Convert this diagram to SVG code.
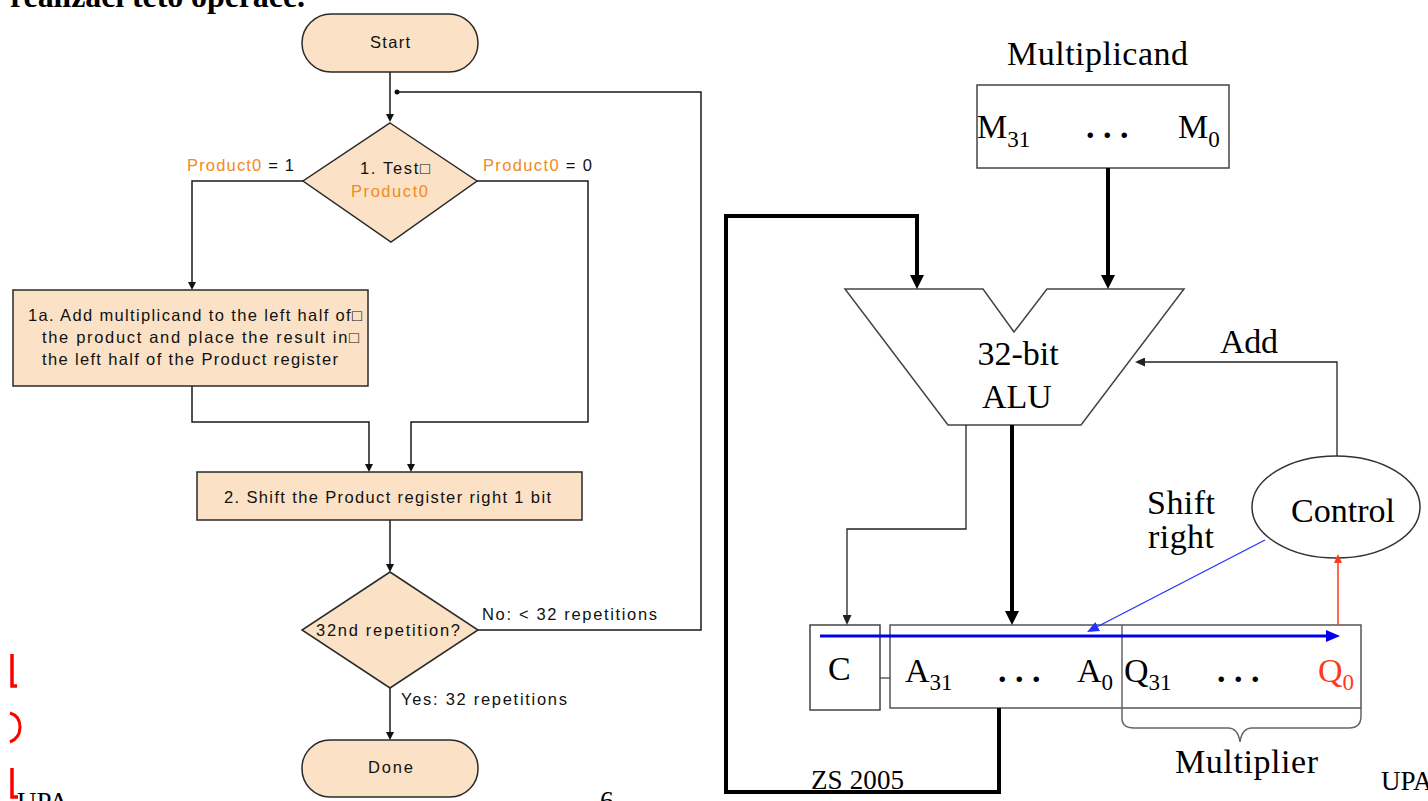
<svg xmlns="http://www.w3.org/2000/svg" width="1428" height="801" viewBox="0 0 1428 801">
<style>
.fc{fill:#FBE2C6;stroke:#2a2a2a;stroke-width:1.5}
.ft{font-family:"Liberation Sans",Arial,sans-serif;font-size:16.5px;fill:#111}
.or{fill:#F08A1C}
.con{fill:none;stroke:#1a1a1a;stroke-width:1.5}
.thick{fill:none;stroke:#000;stroke-width:4}
.thin{fill:none;stroke:#222;stroke-width:1.3}
.st{font-family:"Liberation Serif","Times New Roman",serif;font-size:34px;fill:#000}
.red{fill:#FF3A1A}
.sub{font-size:23px}
.box{fill:#fff;stroke:#444;stroke-width:1.5}
.nob{fill:none;stroke:#444;stroke-width:1.5}
</style>
<defs>
<marker id="aF" markerUnits="userSpaceOnUse" markerWidth="9" markerHeight="8" refX="0" refY="4" orient="auto"><path d="M0,0 L8,4 L0,8 z" fill="#111"/></marker>
<marker id="aK" markerUnits="userSpaceOnUse" markerWidth="15" markerHeight="14" refX="0" refY="7" orient="auto"><path d="M0,0 L14,7 L0,14 z" fill="#000"/></marker>
<marker id="aT" markerUnits="userSpaceOnUse" markerWidth="11" markerHeight="9" refX="0" refY="4.5" orient="auto"><path d="M0,0 L10,4.5 L0,9 z" fill="#222"/></marker>
<marker id="aB" markerUnits="userSpaceOnUse" markerWidth="15" markerHeight="12" refX="0" refY="6" orient="auto"><path d="M0,0 L14,6 L0,12 z" fill="#0000F0"/></marker>
<marker id="aBt" markerUnits="userSpaceOnUse" markerWidth="13" markerHeight="10" refX="0" refY="5" orient="auto"><path d="M0,0 L12,5 L0,10 z" fill="#2233FF"/></marker>
<marker id="aR" markerUnits="userSpaceOnUse" markerWidth="10" markerHeight="8" refX="0" refY="4" orient="auto"><path d="M0,0 L9,4 L0,8 z" fill="#FF3A1A"/></marker>
</defs>

<g id="page-text">
<text x="10" y="7" font-family="Liberation Serif,serif" font-weight="bold" font-size="32" textLength="295">realizaci této operace.</text>
<text x="17" y="811" font-family="Liberation Serif,serif" font-size="27">UPA</text>
<text x="600" y="810" font-family="Liberation Serif,serif" font-size="27">6</text>
<text x="811" y="789" font-family="Liberation Serif,serif" font-size="27" textLength="93">ZS 2005</text>
<text x="1381" y="790" font-family="Liberation Serif,serif" font-size="27">UPA</text>
<path d="M12,654 V686 H17" fill="none" stroke="#FF0000" stroke-width="3.5"/>
<path d="M10,713 Q20,716 20,727 Q20,738 10,742" fill="none" stroke="#FF0000" stroke-width="3"/>
<path d="M12,768 V797 H18" fill="none" stroke="#FF0000" stroke-width="3.5"/>
</g>

<g id="flow-connectors">
<path class="con" d="M390,72 V114" marker-end="url(#aF)"/>
<path class="con" d="M478,630 H701 V92 H397"/>
<circle cx="397" cy="92" r="2.5" fill="#111"/>
<path class="con" d="M303,181 H192 V282" marker-end="url(#aF)"/>
<path class="con" d="M477,181 H588 V422 H411 V464" marker-end="url(#aF)"/>
<path class="con" d="M192,386 V422 H369 V464" marker-end="url(#aF)"/>
<path class="con" d="M390,520 V564" marker-end="url(#aF)"/>
<path class="con" d="M390,688 V732" marker-end="url(#aF)"/>
<text class="ft" x="187" y="171" textLength="107"><tspan class="or">Product0</tspan> = 1</text>
<text class="ft" x="483" y="171" textLength="109"><tspan class="or">Product0</tspan> = 0</text>
<text class="ft" x="482" y="620" textLength="175">No:  &lt; 32 repetitions</text>
<text class="ft" x="401" y="705" textLength="166">Yes:  32 repetitions</text>
</g>

<g id="start">
<rect class="fc" x="302" y="14" width="176" height="58" rx="29"/>
<text class="ft" x="370" y="48" textLength="40">Start</text>
</g>

<g id="test">
<polygon class="fc" points="390,123 477,181 391,242 303,181"/>
<text class="ft" x="360" y="174" textLength="70">1. Test□</text>
<text class="ft or" x="351" y="197" textLength="77">Product0</text>
</g>

<g id="step1a">
<rect class="fc" x="13" y="290" width="355" height="96"/>
<text class="ft" x="28" y="321" textLength="334">1a. Add multiplicand to the left half of□</text>
<text class="ft" x="42" y="343" textLength="317">the product and place the result in□</text>
<text class="ft" x="42" y="365" textLength="296">the left half of the Product register</text>
</g>

<g id="step2">
<rect class="fc" x="197" y="472" width="385" height="48"/>
<text class="ft" x="224" y="503" textLength="327">2. Shift the Product register right 1 bit</text>
</g>

<g id="repeat">
<polygon class="fc" points="390,572 478,630 390,688 302,630"/>
<text class="ft" x="316" y="636" textLength="144">32nd repetition?</text>
</g>

<g id="done">
<rect class="fc" x="302" y="740" width="176" height="57" rx="28"/>
<text class="ft" x="368" y="773" textLength="45">Done</text>
</g>

<g id="multiplicand">
<text class="st" x="1007" y="65" textLength="181">Multiplicand</text>
<rect class="box" x="977" y="85" width="252" height="83"/>
<text class="st" x="977" y="138">M<tspan class="sub" dy="9">31</tspan></text>
<text class="st" x="1086" y="138" font-weight="bold">. . .</text>
<text class="st" x="1178" y="138">M<tspan class="sub" dy="9">0</tspan></text>
</g>

<g id="alu">
<polygon points="845,289 983,289 1014,332 1047,289 1184,289 1081,425 948,425" fill="#fff" stroke="#444" stroke-width="1.5"/>
<text class="st" x="1018" y="365" text-anchor="middle">32-bit</text>
<text class="st" x="1017" y="408" text-anchor="middle">ALU</text>
</g>

<g id="control">
<ellipse cx="1336" cy="507" rx="84" ry="51" fill="#fff" stroke="#333" stroke-width="1.5"/>
<text class="st" x="1343" y="522" text-anchor="middle">Control</text>
</g>

<g id="carry">
<rect class="nob" x="810" y="625" width="70" height="85"/>
<text class="st" x="828" y="680">C</text>
</g>

<g id="register">
<rect x="890" y="625" width="471" height="83" fill="none" stroke="#555" stroke-width="1.5"/>
<path d="M1122,625 V718 Q1122,728 1134,728 H1228 Q1238,728 1240,742 Q1242,728 1252,728 H1349 Q1361,728 1361,716 V708" fill="none" stroke="#666" stroke-width="1.5"/>
<text class="st" x="905" y="682">A<tspan class="sub" dy="8">31</tspan></text>
<text class="st" x="998" y="682" font-weight="bold">. . .</text>
<text class="st" x="1077" y="682">A<tspan class="sub" dy="8">0</tspan></text>
<text class="st" x="1124" y="682">Q<tspan class="sub" dy="8">31</tspan></text>
<text class="st" x="1217" y="682" font-weight="bold">. . .</text>
<text class="st red" x="1318" y="682">Q<tspan class="sub" dy="8">0</tspan></text>
<text class="st" x="1175" y="773" textLength="143">Multiplier</text>
</g>

<g id="hw-connectors">
<path class="thick" d="M1108,168 V275" marker-end="url(#aK)"/>
<path class="thick" d="M999,708 V792 H726 V216 H917 V275" marker-end="url(#aK)"/>
<path class="thick" d="M1012,425 V611" marker-end="url(#aK)"/>
<path class="thin" d="M966,425 V529 H847 V615" marker-end="url(#aT)"/>
<path class="thin" d="M1337,456 V362 H1145" marker-end="url(#aT)"/>
<path d="M820,636 H1326" fill="none" stroke="#0000F0" stroke-width="3" marker-end="url(#aB)"/>
<path d="M1265,540 L1097.7,626.5" fill="none" stroke="#2233FF" stroke-width="1.3" marker-end="url(#aBt)"/>
<path d="M1338,625 V563" fill="none" stroke="#FF3A1A" stroke-width="1.5" marker-end="url(#aR)"/>
<path d="M880,678 H890" fill="none" stroke="#444" stroke-width="1.3"/>
<text class="st" x="1220" y="353" textLength="58">Add</text>
<text class="st" x="1147" y="514" textLength="68">Shift</text>
<text class="st" x="1148" y="548" textLength="66">right</text>
</g>
</svg>
